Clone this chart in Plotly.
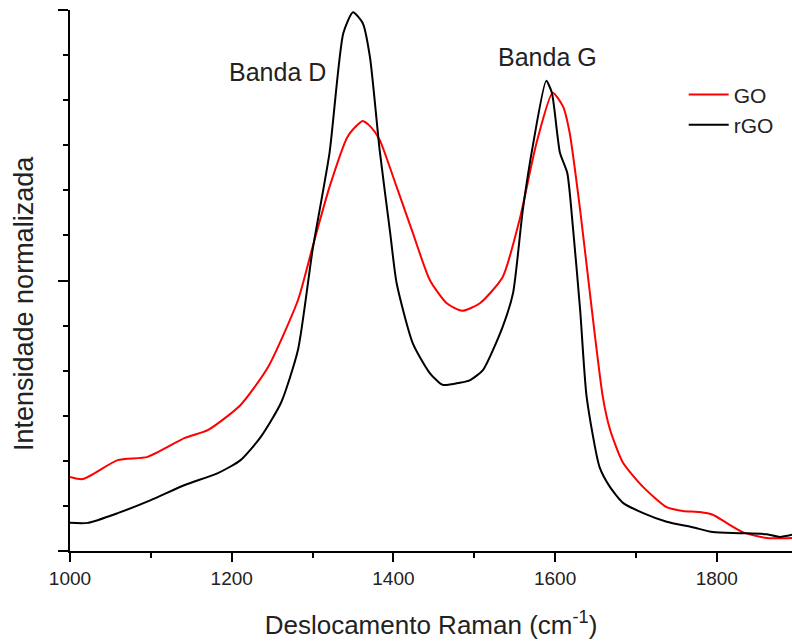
import plotly.graph_objects as go

# GO spectrum (red)
go_x = [1000, 1016, 1059, 1096, 1142, 1171, 1211, 1245, 1282, 1300, 1321, 1343, 1355, 1362,
        1372, 1383, 1404, 1424, 1445, 1466, 1485, 1507, 1535, 1556, 1577, 1597, 1610, 1618,
        1631, 1643, 1659, 1668, 1684, 1709, 1738, 1758, 1779, 1795, 1812, 1832, 1862, 1893]
go_y = [0.137, 0.133, 0.168, 0.174, 0.209, 0.224, 0.270, 0.340, 0.464, 0.562, 0.673, 0.765, 0.787, 0.795,
        0.784, 0.760, 0.673, 0.588, 0.501, 0.458, 0.444, 0.458, 0.506, 0.612, 0.754, 0.847, 0.821, 0.773,
        0.630, 0.477, 0.285, 0.224, 0.163, 0.118, 0.081, 0.074, 0.072, 0.067, 0.052, 0.035, 0.024, 0.024]

# rGO spectrum (black)
rgo_x = [1000, 1022, 1059, 1100, 1142, 1183, 1211, 1236, 1261, 1282, 1300, 1321, 1338, 1350,
         1362, 1371, 1383, 1396, 1404, 1424, 1445, 1461, 1482, 1495, 1511, 1535, 1548, 1560,
         1573, 1589, 1596, 1606, 1615, 1622, 1631, 1639, 1655, 1668, 1684, 1709, 1738, 1770,
         1795, 1828, 1862, 1878, 1893]
rgo_y = [0.052, 0.052, 0.070, 0.094, 0.122, 0.144, 0.168, 0.211, 0.274, 0.372, 0.556, 0.736, 0.957, 0.996,
         0.976, 0.913, 0.741, 0.588, 0.495, 0.384, 0.329, 0.307, 0.311, 0.316, 0.335, 0.414, 0.477, 0.630,
         0.754, 0.869, 0.847, 0.736, 0.699, 0.599, 0.445, 0.285, 0.155, 0.118, 0.089, 0.070, 0.054, 0.044,
         0.035, 0.033, 0.031, 0.026, 0.030]

band_labels = ["Banda D", "Banda G"]
band_x = [1257, 1591]
band_y = [0.885, 0.914]

FONT = "Liberation Sans, Arial, sans-serif"
TXT = "#222222"

fig = go.Figure()
fig.add_trace(go.Scatter(x=go_x, y=go_y, mode="lines", name="GO",
                         line=dict(color="#ff0000", width=2, shape="spline", smoothing=0.6)))
fig.add_trace(go.Scatter(x=rgo_x, y=rgo_y, mode="lines", name="rGO",
                         line=dict(color="#000000", width=2, shape="spline", smoothing=0.6)))

for t, xx, yy in zip(band_labels, band_x, band_y):
    fig.add_annotation(x=xx, y=yy, text=t, showarrow=False,
                       font=dict(family=FONT, size=25, color=TXT))

# y-axis title (placed as rotated annotation to match the reference offset)
fig.add_annotation(xref="paper", yref="paper", x=-0.064, y=0.458,
                   xanchor="center", yanchor="middle", textangle=-90,
                   text="Intensidade normalizada", showarrow=False,
                   font=dict(family=FONT, size=27, color=TXT))

fig.update_layout(
    width=792, height=642,
    margin=dict(l=70, r=0, t=10, b=91, autoexpand=False),
    paper_bgcolor="white", plot_bgcolor="white",
    font=dict(family=FONT, color=TXT),
    showlegend=True,
    legend=dict(x=0.85, y=0.881, xanchor="left", yanchor="top",
                font=dict(family=FONT, size=21, color=TXT),
                bgcolor="rgba(0,0,0,0)", tracegroupgap=0, itemwidth=40),
    xaxis=dict(range=[1000, 1893], showgrid=False, zeroline=False, automargin=False,
               showline=True, linecolor="black", linewidth=1.5,
               ticks="outside", ticklen=9, tickwidth=1.5, tickcolor="black",
               dtick=200, tick0=1000,
               minor=dict(ticks="outside", ticklen=5, tickwidth=1.5, tickcolor="black", dtick=100),
               tickfont=dict(family=FONT, size=19, color=TXT),
               title=dict(text="Deslocamento Raman (cm<sup>-1</sup>)",
                          font=dict(family=FONT, size=26, color=TXT), standoff=28)),
    yaxis=dict(range=[0, 1], showgrid=False, zeroline=False, automargin=False,
               showline=True, linecolor="black", linewidth=1.5,
               ticks="outside", ticklen=10, tickwidth=1.5, tickcolor="black",
               dtick=0.5, tick0=0, showticklabels=False,
               minor=dict(ticks="outside", ticklen=5, tickwidth=1.5, tickcolor="black", dtick=1/12)),
)

fig.write_html("out.html",
               config={"displayModeBar": False},
               post_script="document.body.style.margin='0';document.body.style.overflow='hidden';")
